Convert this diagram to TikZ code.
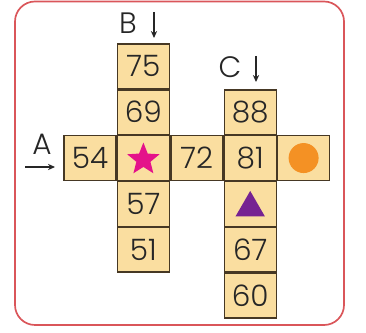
\documentclass[tikz,border=0pt]{standalone}
\usepackage{fontspec}
\setmainfont{Poppins}[UprightFont=* Light]
\usetikzlibrary{matrix,shapes.geometric,arrows.meta}

\definecolor{cellfill}{RGB}{250,222,160}
\definecolor{cellline}{RGB}{70,56,36}
\definecolor{framered}{RGB}{218,86,90}
\definecolor{starpink}{RGB}{228,18,138}
\definecolor{dotorange}{RGB}{244,145,36}
\definecolor{triviolet}{RGB}{118,34,146}

\tikzset{
  cell/.style={draw=cellline, fill=cellfill, line width=1pt,
               minimum width=52*0.025cm, minimum height=44.5*0.025cm,
               inner sep=0pt, outer sep=0pt, anchor=center, text=black!85,
               font=\fontsize{21}{21}\selectfont},
  tag/.style={font=\fontsize{21}{21}\selectfont, inner sep=0pt, text=black!85},
  way/.style={-{Stealth[length=5pt,width=4.5pt]}, line width=0.8pt, black!85}
}

\begin{document}
\begin{tikzpicture}[x=0.025cm, y=-0.025cm]
  \useasboundingbox (0,0) rectangle (366,333);
  \draw[framered, line width=1.2pt, rounded corners=20*0.025cm]
    (15,1.5) rectangle (344,325);

  \matrix (g) [matrix of nodes,
          ampersand replacement=\&,
          nodes={cell},
          row sep=0pt, column sep=0pt, inner sep=0pt,
          anchor=north west] at (63,43) {
       \& 75 \&    \&    \&    \\
       \& 69 \&    \& 88 \&    \\
    54 \& {} \& 72 \& 81 \& {} \\
       \& 57 \&    \& {} \&    \\
       \& 51 \&    \& 67 \&    \\
       \&    \&    \& 60 \&    \\
  };

  % shapes in the empty cells
  \node[star, star points=5, star point ratio=2.3, fill=starpink,
        minimum size=34*0.025cm, inner sep=0pt] (star) at ([yshift=-1.5*0.025cm]g-3-2) {};
  \node[circle, fill=dotorange, minimum size=30*0.025cm, inner sep=0pt]
    (dot) at (g-3-5) {};
  \node[regular polygon, regular polygon sides=3, fill=triviolet,
        minimum size=34*0.025cm, inner sep=0pt] (tri) at ([yshift=-4*0.025cm]g-4-4) {};

  % row and column labels
  \node[tag] (lblA) at (42,144) {A};
  \node[tag] (lblB) at (128,23) {B};
  \node[tag] (lblC) at (230,67) {C};

  \coordinate (a-in)  at (25,167);
  \coordinate (a-out) at (55,167);
  \coordinate (b-in)  at (154,12);
  \coordinate (b-out) at (154,38);
  \coordinate (c-in)  at (256,56);
  \coordinate (c-out) at (256,82);

  \draw[way] (a-in) -- (a-out);
  \draw[way] (b-in) -- (b-out);
  \draw[way] (c-in) -- (c-out);
\end{tikzpicture}
\end{document}
